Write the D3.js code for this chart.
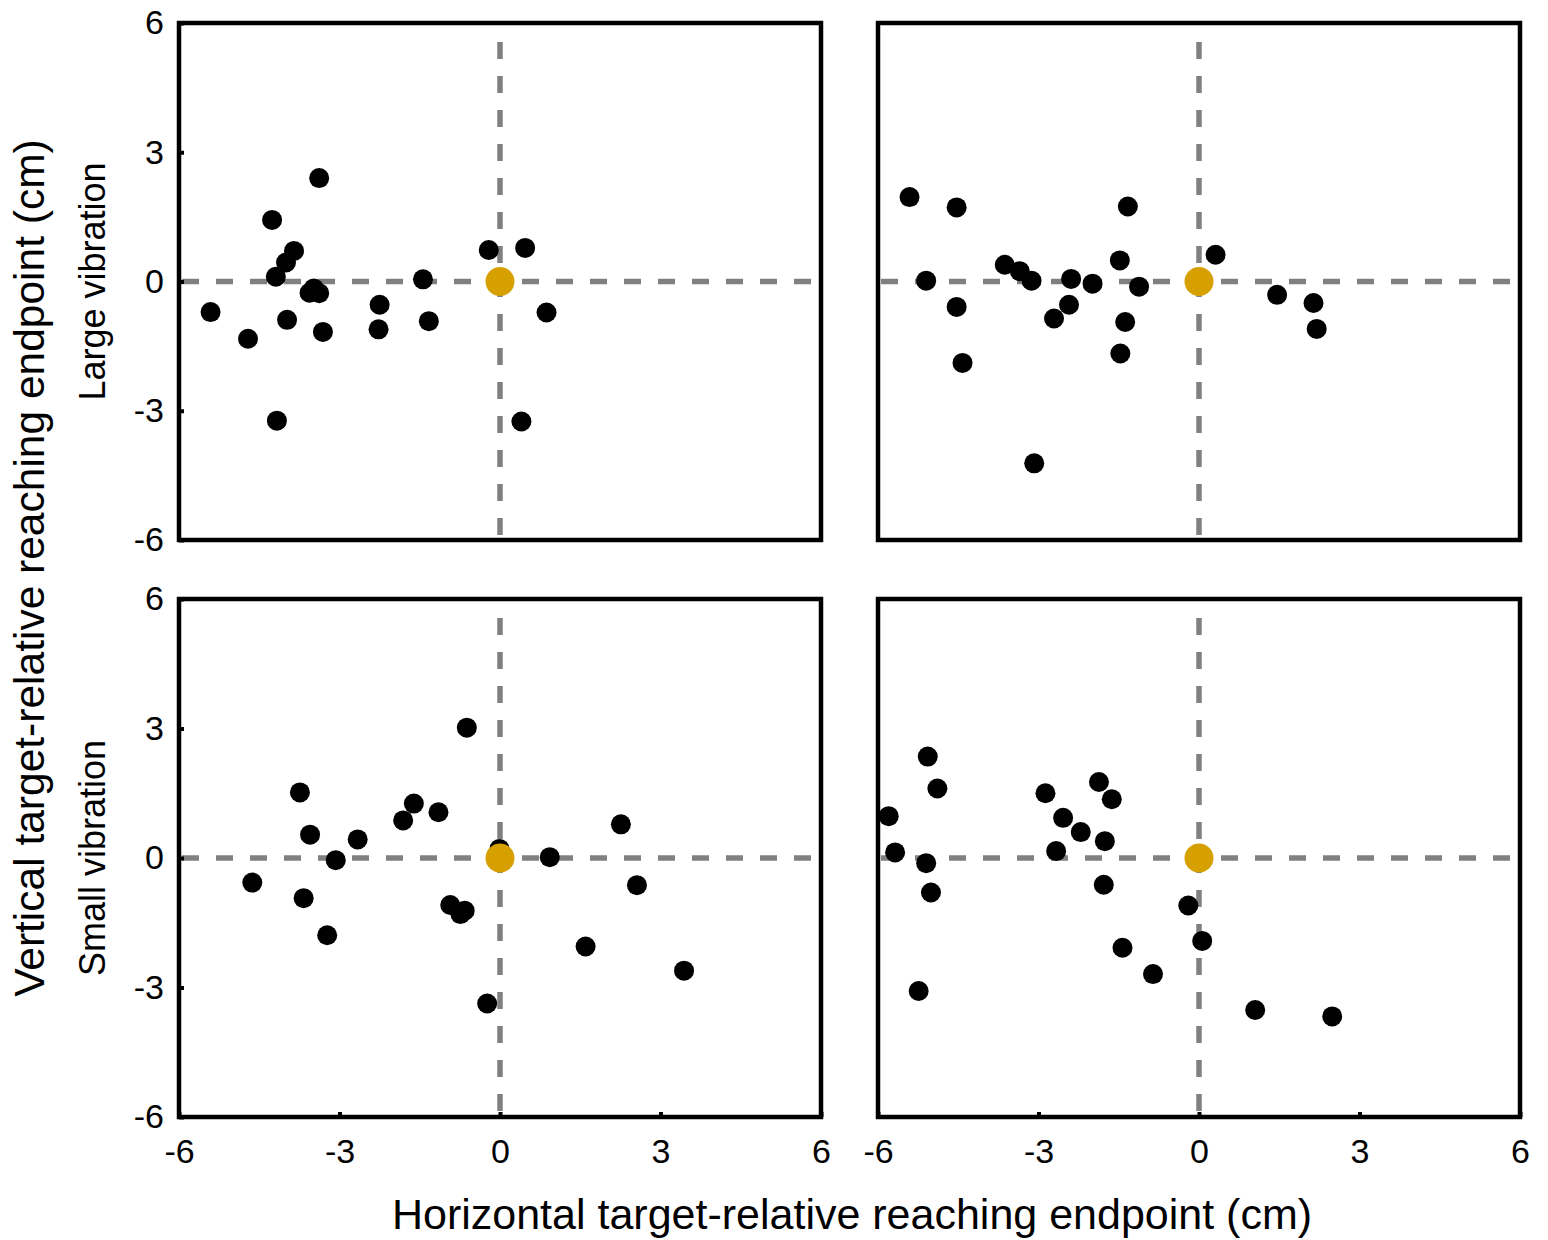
<!DOCTYPE html>
<html>
<head>
<meta charset="utf-8">
<script src="https://cdn.jsdelivr.net/npm/d3@7"></script>
<style>
  body { margin: 0; background: #fff; }
  text { font-family: "Liberation Sans", Arial, sans-serif; fill: #000; }
</style>
</head>
<body>
<svg id="chart" width="1548" height="1240"></svg>
<script>
// reaching endpoints (cm)
const largeLeftX = [-5.41, -4.71, -4.26, -3.85, -4.00, -4.19, -3.38, -3.56, -3.48, -3.38, -3.98, -3.31, -4.17, -2.25, -2.27, -1.44, -1.33, -0.21, 0.47, 0.87, 0.40];
const largeLeftY = [-0.71, -1.33, 1.43, 0.71, 0.44, 0.11, 2.40, -0.26, -0.16, -0.27, -0.89, -1.17, -3.23, -0.54, -1.11, 0.05, -0.92, 0.73, 0.78, -0.72, -3.25];

const largeRightX = [-5.41, -4.53, -1.33, -5.10, -4.53, -4.42, -3.63, -3.35, -3.13, -2.39, -1.99, -1.48, -1.12, -2.43, -2.71, -1.38, -1.47, -3.08, 0.31, 1.46, 2.14, 2.20];
const largeRightY = [1.96, 1.72, 1.74, 0.02, -0.59, -1.89, 0.39, 0.24, 0.02, 0.06, -0.05, 0.49, -0.12, -0.54, -0.86, -0.94, -1.67, -4.22, 0.62, -0.31, -0.50, -1.10];

const smallLeftX = [-0.62, -3.74, -3.55, -2.66, -3.07, -1.61, -1.81, -1.15, -4.63, -3.67, -3.23, -0.93, -0.74, -0.66, -0.24, -0.01, 0.93, 2.26, 2.56, 1.60, 3.44];
const smallLeftY = [3.02, 1.52, 0.54, 0.43, -0.05, 1.26, 0.87, 1.06, -0.57, -0.93, -1.79, -1.09, -1.30, -1.22, -3.37, 0.21, 0.02, 0.78, -0.63, -2.05, -2.61];

const smallRightX = [-5.07, -4.89, -5.80, -5.68, -5.10, -5.01, -5.24, -2.87, -2.54, -2.21, -2.67, -1.87, -1.63, -1.76, -1.78, -0.20, 0.06, -1.43, -0.86, 1.05, 2.49];
const smallRightY = [2.35, 1.61, 0.97, 0.13, -0.12, -0.80, -3.08, 1.50, 0.93, 0.60, 0.16, 1.76, 1.36, 0.39, -0.62, -1.10, -1.92, -2.08, -2.69, -3.52, -3.67];

const target = [0, 0];
const tickValues = [-6, -3, 0, 3, 6];
const rowLabels = ["Large vibration", "Small vibration"];

const svg = d3.select("#chart");

const colX = [[179, 821], [878, 1520]];
const rowY = [[540, 23], [1117, 599]];

const panels = [
  { row: 0, col: 0, xs: largeLeftX, ys: largeLeftY },
  { row: 0, col: 1, xs: largeRightX, ys: largeRightY },
  { row: 1, col: 0, xs: smallLeftX, ys: smallLeftY },
  { row: 1, col: 1, xs: smallRightX, ys: smallRightY }
];

// plain hyphen for negatives, like the original
const fmt = d => String(d);

panels.forEach(p => {
  const x = d3.scaleLinear().domain([-6, 6]).range(colX[p.col]);
  const y = d3.scaleLinear().domain([-6, 6]).range(rowY[p.row]);
  const g = svg.append("g");

  // dashed cross through the target
  g.append("line")
    .attr("x1", x(-6) + 3).attr("x2", x(6) - 3)
    .attr("y1", y(target[1])).attr("y2", y(target[1]))
    .attr("stroke", "#808080").attr("stroke-width", 5.5)
    .attr("stroke-dasharray", "17,17");
  g.append("line")
    .attr("x1", x(target[0])).attr("x2", x(target[0]))
    .attr("y1", y(6)).attr("y2", y(-6))
    .attr("stroke", "#808080").attr("stroke-width", 5.5)
    .attr("stroke-dasharray", "17,17").attr("stroke-dashoffset", 15);

  // frame
  g.append("rect")
    .attr("x", x(-6)).attr("y", y(6))
    .attr("width", x(6) - x(-6)).attr("height", y(-6) - y(6))
    .attr("fill", "none").attr("stroke", "#000").attr("stroke-width", 4.5);

  // axes with inward ticks
  if (p.col === 0) {
    const ya = g.append("g")
      .attr("transform", `translate(${x(-6)},0)`)
      .call(d3.axisLeft(y).tickValues(tickValues).tickFormat(fmt).tickSizeInner(-5).tickSizeOuter(0).tickPadding(15));
    ya.select(".domain").remove();
    ya.selectAll("line").attr("stroke", "#000").attr("stroke-width", 4);
    ya.selectAll("text").style("font-size", "34px").attr("fill", "#000");
  }
  if (p.row === 1) {
    const xa = g.append("g")
      .attr("transform", `translate(0,${y(-6)})`)
      .call(d3.axisBottom(x).tickValues(tickValues).tickFormat(fmt).tickSizeInner(-5).tickSizeOuter(0).tickPadding(22));
    xa.select(".domain").remove();
    xa.selectAll("line").attr("stroke", "#000").attr("stroke-width", 4);
    xa.selectAll("text").style("font-size", "34px").attr("fill", "#000");
  }

  const pts = d3.range(p.xs.length).map(i => [p.xs[i], p.ys[i]]);
  g.selectAll("circle.pt")
    .data(pts)
    .join("circle")
    .attr("class", "pt")
    .attr("cx", d => x(d[0]))
    .attr("cy", d => y(d[1]))
    .attr("r", 10)
    .attr("fill", "#000");

  g.append("circle")
    .attr("cx", x(target[0]))
    .attr("cy", y(target[1]))
    .attr("r", 14.5)
    .attr("fill", "#d6a100");
});

// row labels
rowLabels.forEach((t, i) => {
  const cy = (rowY[i][0] + rowY[i][1]) / 2;
  svg.append("text")
    .attr("transform", `translate(105,${cy}) rotate(-90)`)
    .attr("text-anchor", "middle")
    .style("font-size", "36px")
    .text(t);
});

// axis titles
svg.append("text")
  .attr("transform", "translate(44,568) rotate(-90)")
  .attr("text-anchor", "middle")
  .style("font-size", "42.5px")
  .text("Vertical target-relative reaching endpoint (cm)");

svg.append("text")
  .attr("x", 852)
  .attr("y", 1229)
  .attr("text-anchor", "middle")
  .style("font-size", "43px")
  .text("Horizontal target-relative reaching endpoint (cm)");
</script>
</body>
</html>
